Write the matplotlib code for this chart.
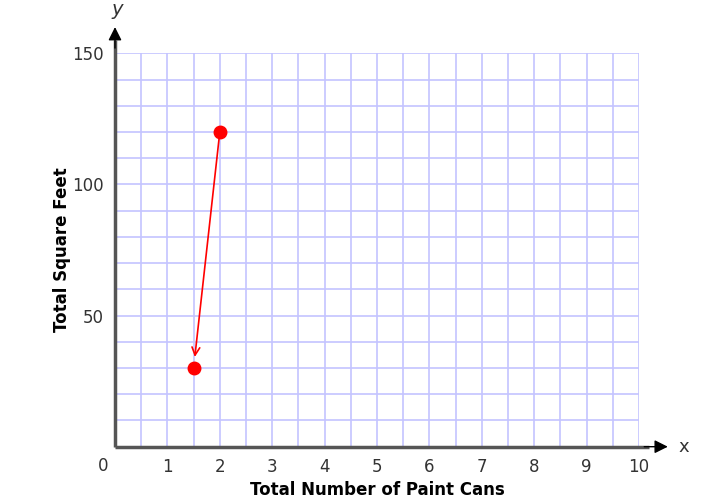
import numpy as np
import matplotlib.pyplot as plt

# data
start_point = (2, 120)
end_point = (1.5, 30)
x_ticks = [1, 2, 3, 4, 5, 6, 7, 8, 9, 10]
y_ticks = [50, 100, 150]

fig = plt.figure(figsize=(7.22, 5.03), dpi=100)
ax = fig.add_axes([115 / 722, 1 - 446.7 / 503, 524 / 722, 393.4 / 503])
ax.set_xlim(0, 10)
ax.set_ylim(0, 150)

# light blue graph-paper grid
grid_color = '#c4c4ff'
for gx in np.arange(0.5, 10.01, 0.5):
    ax.axvline(gx, color=grid_color, linewidth=1.2, zorder=1)
for gy in np.arange(10, 150.1, 10):
    ax.axhline(gy, color=grid_color, linewidth=1.2, zorder=1)

for side in ['top', 'right', 'left', 'bottom']:
    ax.spines[side].set_visible(False)

# axes: grey lines with black arrow heads
axis_color = '#555555'
ax.plot([0, 10.2], [0, 0], color=axis_color, lw=2.5, clip_on=False, zorder=3,
        solid_capstyle='butt')
ax.plot([0, 0], [0, 155], color=axis_color, lw=2.5, clip_on=False, zorder=3,
        solid_capstyle='butt')
ax.annotate('', xy=(10.55, 0), xytext=(10.1, 0),
            arrowprops=dict(arrowstyle='-|>', color='black', lw=1,
                            mutation_scale=20, shrinkA=0, shrinkB=0),
            annotation_clip=False, zorder=4)
ax.annotate('', xy=(0, 160), xytext=(0, 152),
            arrowprops=dict(arrowstyle='-|>', color='black', lw=1,
                            mutation_scale=20, shrinkA=0, shrinkB=0),
            annotation_clip=False, zorder=4)
ax.text(10.75, 0, 'x', fontsize=13, color='#333333', va='center', ha='left')
ax.text(0.05, 163, 'y', fontsize=14, color='#333333', style='italic', va='bottom', ha='center')

ax.set_xticks(x_ticks)
ax.set_yticks(y_ticks)
ax.tick_params(length=0, labelsize=12, labelcolor='#333333', pad=8)
ax.text(-0.22, -4, '0', fontsize=12, color='#333333', ha='center', va='top')

fig.text(377 / 722, 1 - 490 / 503, 'Total Number of Paint Cans', fontsize=12,
         fontweight='bold', ha='center', va='center')
fig.text(62 / 722, 1 - 250 / 503, 'Total Square Feet', fontsize=12,
         fontweight='bold', ha='center', va='center', rotation=90)

# red points and arrow
ax.plot([start_point[0], end_point[0]], [start_point[1], end_point[1]], 'o',
        color='red', markersize=9, zorder=5, clip_on=False)
ax.annotate('', xy=end_point, xytext=start_point,
            arrowprops=dict(arrowstyle='->', color='red', lw=1.2,
                            mutation_scale=14, shrinkA=0, shrinkB=8),
            zorder=4)

plt.savefig('out.png', dpi=100)
